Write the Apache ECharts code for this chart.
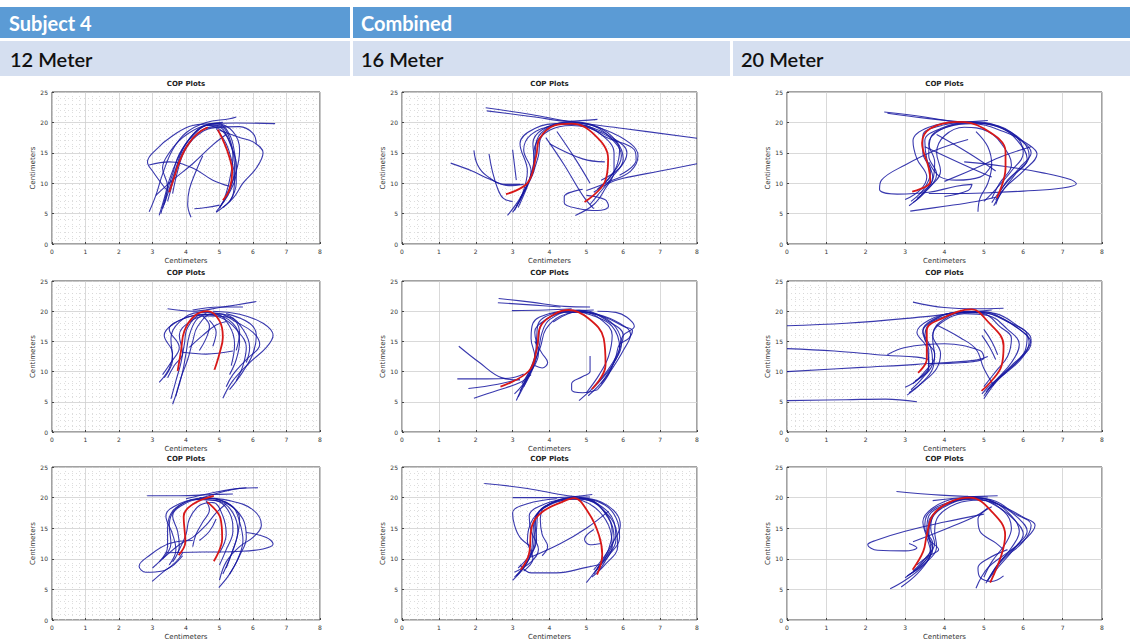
<!DOCTYPE html>
<html><head><meta charset="utf-8">
<script src="https://cdn.jsdelivr.net/npm/echarts@6/dist/echarts.min.js"></script>
<style>html,body{margin:0;padding:0;background:#fff}#c{width:1130px;height:641px}</style>
</head><body><div id="c"></div>
<script>
// ---------- text ----------
const headerTop = ['Subject 4', 'Combined'];
const headerSub = ['12 Meter', '16 Meter', '20 Meter'];
const plotTitle = 'COP Plots';
const axisTitle = 'Centimeters';
const xTicks = [0, 1, 2, 3, 4, 5, 6, 7, 8];
const yTicks = [0, 5, 10, 15, 20, 25];

// ---------- panel data (x cm, y cm) ----------
// row 1
const p11Red = [
  [[3.5,8.5],[3.65,11],[3.8,13.5],[4.05,16.3],[4.35,18.2],[4.65,19.2]],
  [[4.95,18.8],[5.15,16.5],[5.3,14.2],[5.38,12],[5.3,9],[5.1,7.2]]
];
const p11Blue = [
  [[2.9,5.3],[3.1,8],[3.3,11.5],[3.6,15.5],[4.0,18.3],[4.6,20],[5.3,20.6],[5.5,20.9]],
  [[3.2,4.7],[3.35,7.5],[3.5,10.5],[3.75,14],[4.1,17.3],[4.6,19.5],[5.0,19.6],[5.3,18],[5.45,15],[5.5,12],[5.3,8.5],[4.9,5.3]],
  [[3.3,5.8],[3.5,9],[3.7,12.5],[3.9,15.5],[4.3,18.5],[4.8,19.8],[5.5,19.9],[6.66,19.8]],
  [[3.4,9],[3.0,12],[2.85,13.5],[3.1,15.5],[3.6,17.8],[4.2,19.5],[4.9,19.8],[5.4,18.5],[5.6,15.5],[5.5,12],[5.2,8],[5.0,5.9]],
  [[3.1,8.0],[3.6,10.5],[4.2,13.2],[4.8,16.3],[5.2,18]],
  [[2.9,13],[3.5,13.5],[4.2,12.5],[4.8,10.5],[5.3,9.5]],
  [[4.15,4.4],[4.05,6.5],[4.1,9],[4.3,12],[4.5,14.5]],
  [[4.25,5.8],[4.6,6],[5.0,6.4]],
  [[5.0,18.7],[5.6,17.5],[6.0,16.8],[6.3,15],[6.1,12.5],[5.7,10],[5.4,7.5],[4.9,5.2]],
  [[4.9,19],[5.2,16.5],[5.35,14],[5.45,11],[5.4,8],[5.1,6]],
  [[4.6,19.6],[5.1,18.5],[5.35,16],[5.5,13],[5.5,10],[5.3,7]],
  [[3.6,8.3],[3.75,12],[3.95,15.2],[4.3,17.7],[4.8,19.1],[5.6,19.3],[6.0,18.2],[6.1,16.5]],
  [[3.35,6.5],[3.45,9.5],[3.3,12.5],[3.5,15],[3.9,17.5],[4.5,19.4],[5.1,20]],
  [[3.25,5.0],[3.4,8],[3.6,11.5],[3.8,14.8],[4.2,17.8],[4.7,19.6],[5.1,19.2],[5.35,16.5],[5.45,13],[5.35,9.5],[5.0,6.0]],
  [[3.45,7],[3.6,10],[3.75,13],[4.0,16],[4.5,18.8],[4.95,19.3],[5.25,17.5],[5.4,14.5],[5.3,10.5],[5.15,7.5]]
];
const p12Red = [
  [[2.82,8.2],[3.41,10.1],[3.64,14.5],[3.73,17.3],[4.14,19.5],[4.6,19.8],[5.23,17.9],[5.59,14.0],[5.5,10.2],[4.95,6.9]]
];
const p12Blue = [
  [[2.27,22.4],[3.5,21.3],[4.6,20.1],[6,19],[8,17.4]],
  [[2.3,21.9],[3.6,20.9],[4.5,20.2],[5.3,20.5]],
  [[5.2,8.5],[5.6,10],[6.0,10.8],[7,12],[8,13.2]],
  [[1.95,15.4],[2.05,13],[2.3,11.2],[2.8,9.8],[3.2,9.8]],
  [[2.36,14.8],[2.45,12],[2.6,9],[2.75,7.5],[3.0,7]],
  [[1.32,13.3],[1.9,12],[2.4,10.6],[2.9,9.6],[3.3,9.8]],
  [[3.0,15.5],[3.05,13],[3.1,10.5]],
  [[2.86,4.7],[3.2,7.5],[3.45,10.5],[3.6,14],[3.65,17],[4.0,19.3],[4.6,20.1],[5.3,19.3],[5.8,17],[6.0,14],[5.7,11],[5.3,8],[5.1,6.5]],
  [[3.05,5.5],[3.3,8.5],[3.5,12],[3.3,15.5],[3.5,18],[4.1,19.5],[4.7,19.9],[5.5,18.8],[6.2,16.5],[6.4,14.5],[6.2,12],[5.6,10.2],[5.0,8.8]],
  [[3.1,6.2],[3.35,9],[3.55,12.5],[3.6,16],[4.0,18.7],[4.6,19.5],[5.4,18.3],[5.9,15.5],[5.8,12.5],[5.5,10]],
  [[3.0,5.2],[3.25,8],[3.4,12],[3.2,16.5],[3.6,19],[4.3,19.8],[5.0,19.4],[5.7,17.5],[6.1,15],[5.9,12.5],[5.4,10.5]],
  [[4.9,9],[4.4,7.8],[4.4,6.8],[4.8,5.8],[5.3,5.5],[5.6,6.2],[5.5,7.3],[5.0,8]],
  [[3.9,17.5],[4.4,13],[4.9,8],[5.2,5.8]],
  [[4.2,18.5],[4.7,14],[5.1,10]],
  [[4.0,16.5],[4.9,14],[5.5,13.5]],
  [[4.7,4.7],[5.2,6.5],[5.5,9],[5.75,12],[5.75,15],[5.4,18],[4.8,19.7]],
  [[3.15,6.0],[3.4,9.5],[3.6,13],[3.55,16.5],[3.8,18.8],[4.5,20.0],[5.2,19.4],[5.7,17.2],[5.95,14.5],[5.7,11.5],[5.3,9]],
  [[3.2,7.5],[3.5,11],[3.7,14.5],[3.75,17.2],[4.3,19.7],[4.9,19.6],[5.55,17.5],[6.3,15.5],[6.35,13.8],[5.9,11.3]]
];
const p13Red = [
  [[3.18,8.6],[3.64,10.3],[3.6,12.5],[3.43,16.6],[3.64,19.0],[4.32,20.1],[5.0,19.0],[5.55,15.2],[5.55,12.5],[5.33,7.6]]
];
const p13Blue = [
  [[2.47,21.7],[3.5,20.9],[4.4,20.1],[5.1,20.3]],
  [[2.55,21.5],[3.5,20.7],[4.5,20.0]],
  [[4.5,13.5],[5.5,12.8],[6.5,11.7],[7.2,10.6],[7.35,9.9],[7.0,9.2],[6,8.7],[5,8.4],[4.2,8.3],[3.6,8.3]],
  [[4.6,17.2],[3.8,15.5],[3.0,13.0],[2.4,10.5],[2.35,9],[2.8,8.2],[3.6,8.5],[4.3,9.5],[4.7,9.8],[4.6,8.8],[4.0,7.8]],
  [[3.13,5.4],[4.0,6.2],[4.8,7.0],[5.3,7.7]],
  [[3.1,6.3],[3.4,8],[3.7,11],[3.55,14],[3.5,17],[3.9,19],[4.6,20],[5.3,19.4],[5.9,17.2],[6.2,15],[5.9,12.5],[5.5,9.5],[5.2,6.8]],
  [[3.2,6.8],[3.5,8.5],[3.8,11.5],[3.6,14.5],[3.65,17.5],[4.1,19.3],[4.7,19.8],[5.5,18.5],[6.1,16.5],[6.35,14.8],[6.0,12],[5.5,9],[5.3,6.5]],
  [[3.0,7.3],[3.4,9],[3.55,11],[3.3,14],[3.2,17],[3.6,19.2],[4.4,20],[5.2,19.7],[5.8,17.8],[6.0,15],[5.7,12],[5.3,9],[5.0,7]],
  [[3.3,7.5],[3.65,9.5],[3.9,12],[3.8,15],[4.0,17.8],[4.5,19.2],[5.1,18.5],[5.5,16],[5.7,13],[5.4,10],[5.2,7.5]],
  [[3.8,18],[4.6,15],[5.3,12]],
  [[3.5,16],[4.5,13],[5.2,11]],
  [[4.0,10.3],[4.8,12.5],[5.5,14.5],[6.2,16]],
  [[3.6,13.5],[3.9,11],[4.3,10.5],[4.9,11],[5.2,13]],
  [[4.85,5.3],[4.9,7.5],[5.1,10],[5.2,13],[5.1,16],[4.8,18.5]],
  [[3.15,7.0],[3.5,9.3],[3.65,12],[3.45,15],[3.45,17.8],[4.0,19.6],[4.8,20.1],[5.5,19],[6.0,16.8],[6.15,14.5],[5.8,11.5],[5.45,8.5],[5.25,6.3]],
  [[3.35,8.2],[3.7,10.5],[3.75,13.5],[3.6,16.5],[3.9,18.8],[4.6,19.9],[5.4,19.2],[5.85,17],[6.1,14],[5.6,10.5],[5.3,7.2]]
];
// row 2
const p21Red = [
  [[3.75,10.1],[3.85,13.4],[3.95,16.7],[4.25,19.2],[4.65,20],[5.0,18.4],[5.1,15.7],[5.0,13],[4.85,10.3]]
];
const p21Blue = [
  [[3.45,20.4],[4.2,20],[5.0,20.6],[6.1,21.6]],
  [[4.2,20.2],[5.0,20.7],[5.7,20.7]],
  [[5.1,5.6],[5.4,8.5],[5.9,11.5],[6.4,14],[6.6,16],[6.3,18],[5.6,19.5],[4.8,20]],
  [[5.3,7],[5.7,10],[6.0,13],[6.1,16],[5.9,18],[5.2,19.6]],
  [[3.6,4.6],[3.75,7],[3.9,10],[4.0,13],[4.1,16],[4.3,18.5],[4.6,19.6]],
  [[3.2,8.2],[3.5,10.5],[3.6,13],[3.35,16],[3.6,17.8],[4.2,19.2],[4.8,19.4],[5.4,18],[5.6,15],[5.5,12],[5.3,9.5]],
  [[3.3,9.5],[3.55,11.5],[3.8,14],[3.5,17],[3.9,18.7],[4.5,19.5],[5.1,18.8],[5.5,17],[5.8,14],[5.7,11],[5.5,8.5]],
  [[3.45,9],[3.65,11],[3.9,13],[3.8,16],[4.1,18.2],[4.6,19.2],[5.3,19],[5.7,17],[5.9,14],[5.8,11.5]],
  [[3.9,13.2],[4.6,12.9],[5.4,13.4]],
  [[4.1,14],[4.5,16],[4.9,17.7],[5.2,18.3]],
  [[4.4,13.5],[4.6,15.5],[4.7,17.5],[4.5,19.2]],
  [[4.8,14.2],[4.9,16.5],[4.7,18.5]],
  [[3.7,6],[3.85,9],[4.05,12],[4.2,15],[4.35,17.5],[4.8,19.6],[5.3,19.2],[5.6,16.5],[5.5,13.5]],
  [[3.55,5.5],[3.7,8.5],[3.85,11.5],[3.95,14.5],[4.05,17.3],[4.45,19.4],[4.9,19.5],[5.3,17.5],[5.45,14.5],[5.35,11]],
  [[3.35,9],[3.6,12],[3.55,15.5],[3.8,18.2],[4.4,19.8],[5.0,19.6],[5.5,18.2],[6.0,16.5],[6.2,14.5],[5.8,12],[5.4,9.5],[5.2,7.5]]
];
const p22Red = [
  [[2.67,7.5],[3.44,10.1],[3.66,13.9],[3.75,17.4],[4.16,19.6],[4.52,20.2],[5.06,18.8],[5.47,15.5],[5.52,11.1],[5.15,7.1]]
];
const p22Blue = [
  [[2.62,22.1],[3.5,21.5],[4.4,20.8],[5.1,20.7]],
  [[2.6,21.4],[3.6,21.0],[4.3,20.7]],
  [[2.98,20.1],[3.9,20.2],[4.6,20.4]],
  [[1.54,14.2],[2.1,11.5],[2.7,9],[3.2,8.6]],
  [[1.5,8.8],[2.3,8.8],[2.9,8.9],[3.3,9.6]],
  [[1.8,7.2],[2.6,7.9],[3.2,8.8]],
  [[1.95,5.6],[2.6,6.9],[3.2,8.2],[3.5,9.5]],
  [[3.1,5.2],[3.3,8],[3.55,11.5],[3.7,15],[3.75,17.5],[4.1,19.3],[4.6,20.1],[5.2,19.2],[5.7,17.5],[5.9,14],[5.7,11],[5.3,8],[4.8,5.2]],
  [[3.05,6.3],[3.4,9],[3.6,12.5],[3.5,15.5],[3.55,18],[4.0,19.6],[4.7,20.1],[5.5,19],[6.0,17.5],[6.25,16.8],[6.15,15.5],[5.9,14.5],[5.8,12.5],[5.6,9.5],[5.3,7]],
  [[3.2,6.8],[3.45,9.5],[3.7,13],[3.6,16.5],[3.9,18.6],[4.4,19.8],[5.0,19.8],[5.6,18.3],[6.0,16],[5.85,13],[5.55,10],[5.2,7.5]],
  [[3.25,8],[3.5,10.5],[3.75,14],[3.9,17],[4.3,19.2],[4.9,19.9],[5.4,18.6],[5.7,16],[5.6,12.5],[5.35,9.5],[5.0,6.5]],
  [[3.6,15],[3.8,13],[3.95,11.5],[3.8,10.6],[3.6,11]],
  [[5.1,12.6],[5.1,10],[4.9,9.2],[4.6,8],[4.6,7],[4.9,6.5],[5.3,7]],
  [[4.1,18.2],[4.6,19.8],[5.2,20.2]],
  [[5.3,20],[5.8,19.8],[6.1,19],[6.3,17.5],[6.0,16],[5.9,14]],
  [[3.15,5.8],[3.4,8.8],[3.6,12],[3.65,15.5],[3.7,18],[4.2,19.8],[4.8,20.2],[5.4,19.2],[5.8,17.3],[5.95,14.5],[5.75,11.5],[5.45,8.5],[5.05,6]],
  [[3.3,7.5],[3.55,10.5],[3.7,13.5],[3.8,16.5],[4.0,18.6],[4.6,20],[5.3,19.5],[5.9,18],[6.2,16.2],[6.0,13.5],[5.7,10.5],[5.4,8]]
];
const p23Red = [
  [[3.33,9.8],[3.55,12.1],[3.55,16.8],[3.97,18.9],[4.69,20.3],[5.07,18.5],[5.5,14.3],[5.45,11],[5.16,8.2],[4.94,6.8]]
];
const p23Blue = [
  [[0,17.6],[1.5,18.0],[3.2,18.9],[4.5,19.8],[5.2,20.2]],
  [[0,13.8],[1.2,13.4],[2.5,12.7],[3.3,12.4],[3.6,12.0]],
  [[0,10],[1.9,10.7],[3.3,11.2],[4.8,11.9],[5.1,12.5]],
  [[0,5.2],[1.5,5.35],[2.5,5.45],[3.3,5.0]],
  [[2.55,12.8],[3.0,14.0],[4.0,14.6],[4.9,13.5],[5.0,12.3],[4.5,11.5],[3.6,11.3]],
  [[3.2,21.5],[4.0,20.6],[4.8,20.4],[5.5,20.5]],
  [[3.8,17.7],[4.4,15.6],[4.8,13.7],[5.0,10.5],[5.25,7.7]],
  [[3.05,6.1],[3.4,8],[3.7,10.5],[3.75,13],[3.5,15.5],[3.6,17.8],[4.1,19.3],[4.7,19.9],[5.3,19.3],[5.8,17.5],[6.15,15],[6.0,12.5],[5.6,10],[5.2,8],[4.95,6.3]],
  [[3.0,7.4],[3.35,8.8],[3.6,11],[3.55,14],[3.3,16.5],[3.6,18.5],[4.2,19.7],[4.9,19.8],[5.5,18.6],[6.0,16.5],[6.2,14.8],[5.9,12],[5.4,9],[5.0,5.5]],
  [[3.1,6.5],[3.5,8.5],[3.8,10.5],[3.9,13],[3.7,16],[3.9,18],[4.5,19.6],[5.1,19.3],[5.6,17],[5.9,14.5],[5.7,11.5],[5.3,8.5],[5.0,6.0]],
  [[3.25,8.5],[3.6,10.5],[3.6,13.5],[3.45,16.5],[3.8,18.8],[4.4,19.9],[5.0,19.6],[5.4,17.5],[5.7,15.5],[5.6,12.5],[5.3,10],[5.0,7.5]],
  [[5.0,17],[5.2,15],[5.35,12.8]],
  [[4.95,16],[5.15,14],[5.3,12]],
  [[3.15,7.0],[3.45,9],[3.7,11.5],[3.65,14],[3.45,16.8],[3.7,18.6],[4.3,19.8],[5.0,19.9],[5.6,18.3],[6.1,16],[6.05,13.5],[5.7,11],[5.3,8.5],[5.05,6.6]],
  [[3.2,8],[3.5,10],[3.75,12.5],[3.7,15.5],[3.85,18],[4.6,20],[5.3,19.6],[5.85,17.6],[6.2,15.3],[6.0,12.8],[5.5,9.5],[5.1,7]]
];
// row 3
const p31Red = [
  [[3.78,10.6],[3.98,12.8],[3.93,16.9],[4.23,19.0],[4.83,20.3]],
  [[4.63,19.3],[5.03,16.6],[5.08,13.3],[4.83,9.6]]
];
const p31Blue = [
  [[2.84,20.3],[3.8,20.3],[4.8,20.5],[5.4,20.6]],
  [[4.0,19.8],[4.8,20.8],[5.6,21.5],[6.15,21.6]],
  [[4.5,20],[5.3,21.2],[5.8,21.6]],
  [[4.2,13],[3.5,12.5],[2.9,10.5],[2.6,8.8],[2.8,7.8],[3.3,8],[3.7,9.5],[3.9,11]],
  [[2.99,6.3],[3.4,8.2],[3.64,9],[3.9,10.5]],
  [[3.4,11],[4.5,11.1],[5.5,11.2],[6.3,11.6],[6.6,12.4],[6.4,13.5],[5.8,14.3]],
  [[4.4,20],[5.3,19.5],[6.0,18],[6.25,15.5],[6.0,13.5],[5.6,12],[5.2,9.5],[5.0,6.5]],
  [[4.98,5.3],[5.3,7.5],[5.55,10],[5.7,13],[5.6,16],[5.4,18.5],[4.9,19.8]],
  [[3.5,9],[3.7,11.5],[3.6,14],[3.4,17],[3.8,19],[4.5,19.9],[5.2,19.2],[5.6,16.5],[5.5,13],[5.3,10],[5.1,7.5]],
  [[3.3,10],[3.55,12.5],[3.5,15.5],[3.7,18.2],[4.3,19.7],[4.9,19.5],[5.3,17.5],[5.4,14.5],[5.2,11.5],[5.0,9]],
  [[3.75,11],[4.0,14],[4.1,16.5],[4.4,18.7],[4.8,19.2],[5.1,17],[5.2,14],[5.0,11]],
  [[3.0,8.5],[3.3,10],[3.8,12.3],[4.2,13.5],[4.6,15.5],[4.9,17.5],[5.2,19]],
  [[4.2,12],[4.3,14],[4.5,16],[4.7,18],[4.6,19.5]],
  [[4.4,13],[4.7,14.5],[4.9,16.5]],
  [[3.6,9.5],[3.8,12],[3.75,14.5],[3.6,17],[3.9,18.8],[4.4,19.7],[5.0,19.4],[5.4,17.5],[5.55,14.5],[5.4,11.5],[5.2,8.5]],
  [[3.2,9.5],[3.45,12],[3.45,15],[3.6,17.8],[4.1,19.5],[4.7,19.9],[5.3,18.8],[5.7,16.5],[5.8,13.5],[5.6,10.5],[5.3,7.5]]
];
const p32Red = [
  [[3.22,8.2],[3.44,10.7],[3.53,15.5],[3.81,17.7],[4.35,19.3],[4.66,19.9],[5.07,17.4],[5.34,13.9],[5.43,10.7],[5.29,7.4]]
];
const p32Blue = [
  [[2.23,22.3],[3.4,21.5],[4.5,20.3],[5.1,20.1]],
  [[3.0,20],[4.2,20],[5.16,20.5]],
  [[3.5,10.3],[4.3,12.5],[5.0,15],[5.6,17.8]],
  [[3.2,9],[3.5,7.7],[4.2,7.7],[5.0,8.6],[5.4,9.1]],
  [[3.5,12],[3.2,13.5],[3.05,15.5],[3.0,17.5],[3.4,19],[4.2,19.8]],
  [[3.8,10.5],[3.95,12],[3.8,14],[3.75,16.5],[3.8,18]],
  [[4.8,20],[5.4,19.3],[5.8,17.5],[5.92,15.5],[5.75,13],[5.5,10.5],[5.2,8.2]],
  [[5.2,14.8],[4.95,13.2],[5.1,12.3],[5.4,12.5]],
  [[3.0,6.5],[3.3,8.5],[3.5,11],[3.55,14],[3.6,16.5],[3.9,18.5],[4.5,19.8],[5.1,19.5],[5.5,17.5],[5.7,14.5],[5.6,11.5],[5.3,8.5],[5.0,6.1]],
  [[3.1,7.2],[3.4,9.5],[3.6,12],[3.65,15],[3.7,17.5],[4.1,19.2],[4.7,20.1],[5.3,19],[5.75,16],[5.8,13],[5.5,10],[5.2,7.5]],
  [[3.05,7.8],[3.5,9.5],[3.7,11.5],[3.5,14.5],[3.45,17],[3.85,18.9],[4.6,19.8],[5.2,18.5],[5.6,15.5],[5.7,12],[5.5,9.5],[5.3,7.8]],
  [[3.3,8],[3.55,10],[3.4,13],[3.55,16.5],[4.0,18.8],[4.8,19.9],[5.5,18.8],[5.85,16],[5.9,13.5],[5.6,10.5],[5.3,8.5]],
  [[3.05,7.0],[3.35,9],[3.55,11.5],[3.6,14.5],[3.65,17],[4.0,19],[4.6,20],[5.2,19.2],[5.6,16.8],[5.75,13.5],[5.55,10.5],[5.25,8]],
  [[3.15,8.5],[3.45,10.5],[3.65,13],[3.6,16],[3.8,18.2],[4.4,19.6],[5.0,19.8],[5.45,18],[5.8,15],[5.85,12],[5.5,9],[5.15,7]]
];
const p33Red = [
  [[3.19,8.2],[3.46,11.2],[3.55,13.9],[3.71,17.2],[4.14,19.3],[4.65,20],[5.16,18],[5.54,13.9],[5.45,10.7],[5.16,6.1]]
];
const p33Blue = [
  [[2.78,21],[3.9,20.4],[4.6,20.2],[5.1,20.1]],
  [[3.7,19.5],[4.6,20.1],[5.35,20.3]],
  [[5.0,17.3],[4.0,16],[3.0,14.5],[2.25,13],[2.05,12.3],[2.3,11.4],[3.0,11.3],[3.3,11.8],[3.1,12.5]],
  [[3.2,12.8],[4.0,14.8],[4.8,17],[5.1,18.3]],
  [[5.2,18.5],[4.85,16.5],[4.9,14.5],[5.3,12.6],[5.5,11.5]],
  [[2.62,5.1],[3.0,6.5],[3.4,8.5],[3.65,11],[3.55,13.5],[3.45,16],[3.7,18.3],[4.3,19.8],[4.9,19.9],[5.5,18.5],[6.0,16.8],[6.3,15.5],[6.1,13.5],[5.6,11],[5.1,8.5],[4.8,5.2]],
  [[2.9,5.4],[3.3,7.5],[3.6,10],[3.7,12.5],[3.5,15],[3.6,17.5],[4.2,19.4],[4.8,20],[5.4,18.8],[5.9,16.5],[6.1,14.5],[5.8,12],[5.4,9.5],[5.1,6.5]],
  [[3.0,6.9],[3.4,9],[3.7,11.5],[3.6,14],[3.7,16.8],[4.0,18.5],[4.6,19.7],[5.2,19.3],[5.7,17],[5.9,14.5],[5.7,11.8],[5.35,9],[5.05,6.0]],
  [[3.1,7.4],[3.55,9.5],[3.8,12],[3.75,14.5],[3.85,17],[4.3,19],[4.9,19.6],[5.5,17.8],[5.7,15],[5.55,12.5],[5.2,9.5],[5.0,7.0]],
  [[3.3,9],[3.6,10.5],[3.85,11.5],[3.6,13.5],[3.6,16],[3.9,18.2]],
  [[5.6,11.5],[5.1,10],[4.85,8.5],[4.9,7],[5.2,6.3],[5.5,7.2]],
  [[3.2,8],[3.5,10],[3.75,12.5],[3.65,15],[3.75,17.5],[4.2,19.3],[4.8,19.8],[5.35,18.5],[5.8,16.2],[6.0,14],[5.75,11.5],[5.35,8.5],[5.1,6.5]],
  [[3.05,7.2],[3.45,9.2],[3.65,12],[3.55,14.5],[3.6,17],[4.1,19],[4.7,20],[5.3,19.4],[5.75,17.5],[6.2,15.5],[6.0,12.8],[5.5,10],[5.2,7.5]]
];

const panels = [
  {red: p11Red, blue: p11Blue, minor: true},
  {red: p12Red, blue: p12Blue, minor: true},
  {red: p13Red, blue: p13Blue, minor: false},
  {red: p21Red, blue: p21Blue, minor: true},
  {red: p22Red, blue: p22Blue, minor: false},
  {red: p23Red, blue: p23Blue, minor: true},
  {red: p31Red, blue: p31Blue, minor: true},
  {red: p32Red, blue: p32Blue, minor: true},
  {red: p33Red, blue: p33Blue, minor: false}
];

// ---------- layout ----------
const cols = [{l: 52, w: 268}, {l: 402, w: 295}, {l: 787, w: 315}];
const rows = [{t: 92, h: 152}, {t: 281, h: 151}, {t: 467, h: 154}];

const grids = [], xAxes = [], yAxes = [], series = [], graphics = [];

// header bands
graphics.push({type: 'rect', shape: {x: 0, y: 7, width: 350, height: 31}, style: {fill: '#5b9bd5'}});
graphics.push({type: 'rect', shape: {x: 353, y: 7, width: 777, height: 31}, style: {fill: '#5b9bd5'}});
graphics.push({type: 'rect', shape: {x: 0, y: 41, width: 350, height: 35}, style: {fill: '#d5dff0'}});
graphics.push({type: 'rect', shape: {x: 353, y: 41, width: 377, height: 35}, style: {fill: '#d5dff0'}});
graphics.push({type: 'rect', shape: {x: 733, y: 41, width: 397, height: 35}, style: {fill: '#d5dff0'}});
const hx = [9, 361];
headerTop.forEach((t, i) => graphics.push({type: 'text', x: hx[i], y: 23, style: {text: t, fill: '#fff', font: 'bold 20px Lato, "Open Sans", sans-serif', textVerticalAlign: 'middle'}}));
const sx = [10, 361, 741];
headerSub.forEach((t, i) => graphics.push({type: 'text', x: sx[i], y: 59, style: {text: t, fill: '#111', font: '600 20px Lato, "Open Sans", sans-serif', textVerticalAlign: 'middle'}}));

const blueColor = 'rgba(22,22,160,0.85)';
const redColor = '#d81818';

panels.forEach((p, i) => {
  const r = rows[Math.floor(i / 3)], c = cols[i % 3];
  grids.push({left: c.l, top: r.t, width: c.w, height: r.h, show: true, borderColor: '#444', borderWidth: 1, backgroundColor: '#fff'});
  const lab = {fontSize: 6, color: '#333', margin: 4, fontFamily: 'DejaVu Sans'};
  xAxes.push({
    type: 'value', gridIndex: i, min: xTicks[0], max: xTicks[xTicks.length - 1], interval: 1,
    name: axisTitle, nameLocation: 'middle', nameGap: 13,
    nameTextStyle: {fontSize: 7, color: '#333', fontFamily: 'DejaVu Sans'},
    axisLine: {show: false}, axisTick: {show: true, inside: true, length: 2, lineStyle: {color: '#444'}},
    axisLabel: lab,
    splitLine: {show: true, lineStyle: {color: '#cfcfcf', width: 0.8}},
    minorTick: {show: false, splitNumber: 5},
    minorSplitLine: {show: p.minor, lineStyle: {color: '#d4d4d4', type: [1, 3], width: 0.8}}
  });
  yAxes.push({
    type: 'value', gridIndex: i, min: yTicks[0], max: yTicks[yTicks.length - 1], interval: 5,
    name: axisTitle, nameLocation: 'middle', nameGap: 16, nameRotate: 90,
    nameTextStyle: {fontSize: 7, color: '#333', fontFamily: 'DejaVu Sans'},
    axisLine: {show: false}, axisTick: {show: true, inside: true, length: 2, lineStyle: {color: '#444'}},
    axisLabel: lab,
    splitLine: {show: true, lineStyle: {color: '#cfcfcf', width: 0.8}},
    minorTick: {show: false, splitNumber: 5},
    minorSplitLine: {show: p.minor, lineStyle: {color: '#d4d4d4', type: [1, 3], width: 0.8}}
  });
  graphics.push({type: 'text', x: c.l + c.w / 2, y: r.t - 8, style: {text: plotTitle, fill: '#222', font: 'bold 7px "DejaVu Sans"', textAlign: 'center', textVerticalAlign: 'middle'}});
  p.blue.forEach(curve => series.push({
    type: 'line', xAxisIndex: i, yAxisIndex: i, data: curve, smooth: 0.4, showSymbol: false, symbol: 'none',
    lineStyle: {color: blueColor, width: 1.1}, z: 2, silent: true
  }));
  p.red.forEach(seg => series.push({
    type: 'line', xAxisIndex: i, yAxisIndex: i, data: seg, smooth: 0.4, showSymbol: false, symbol: 'none',
    lineStyle: {color: redColor, width: 1.8}, z: 3, silent: true
  }));
});

const chart = echarts.init(document.getElementById('c'), null, {renderer: 'svg'});
chart.setOption({
  animation: false,
  backgroundColor: '#fff',
  grid: grids, xAxis: xAxes, yAxis: yAxes, series: series,
  graphic: graphics
});
</script></body></html>
